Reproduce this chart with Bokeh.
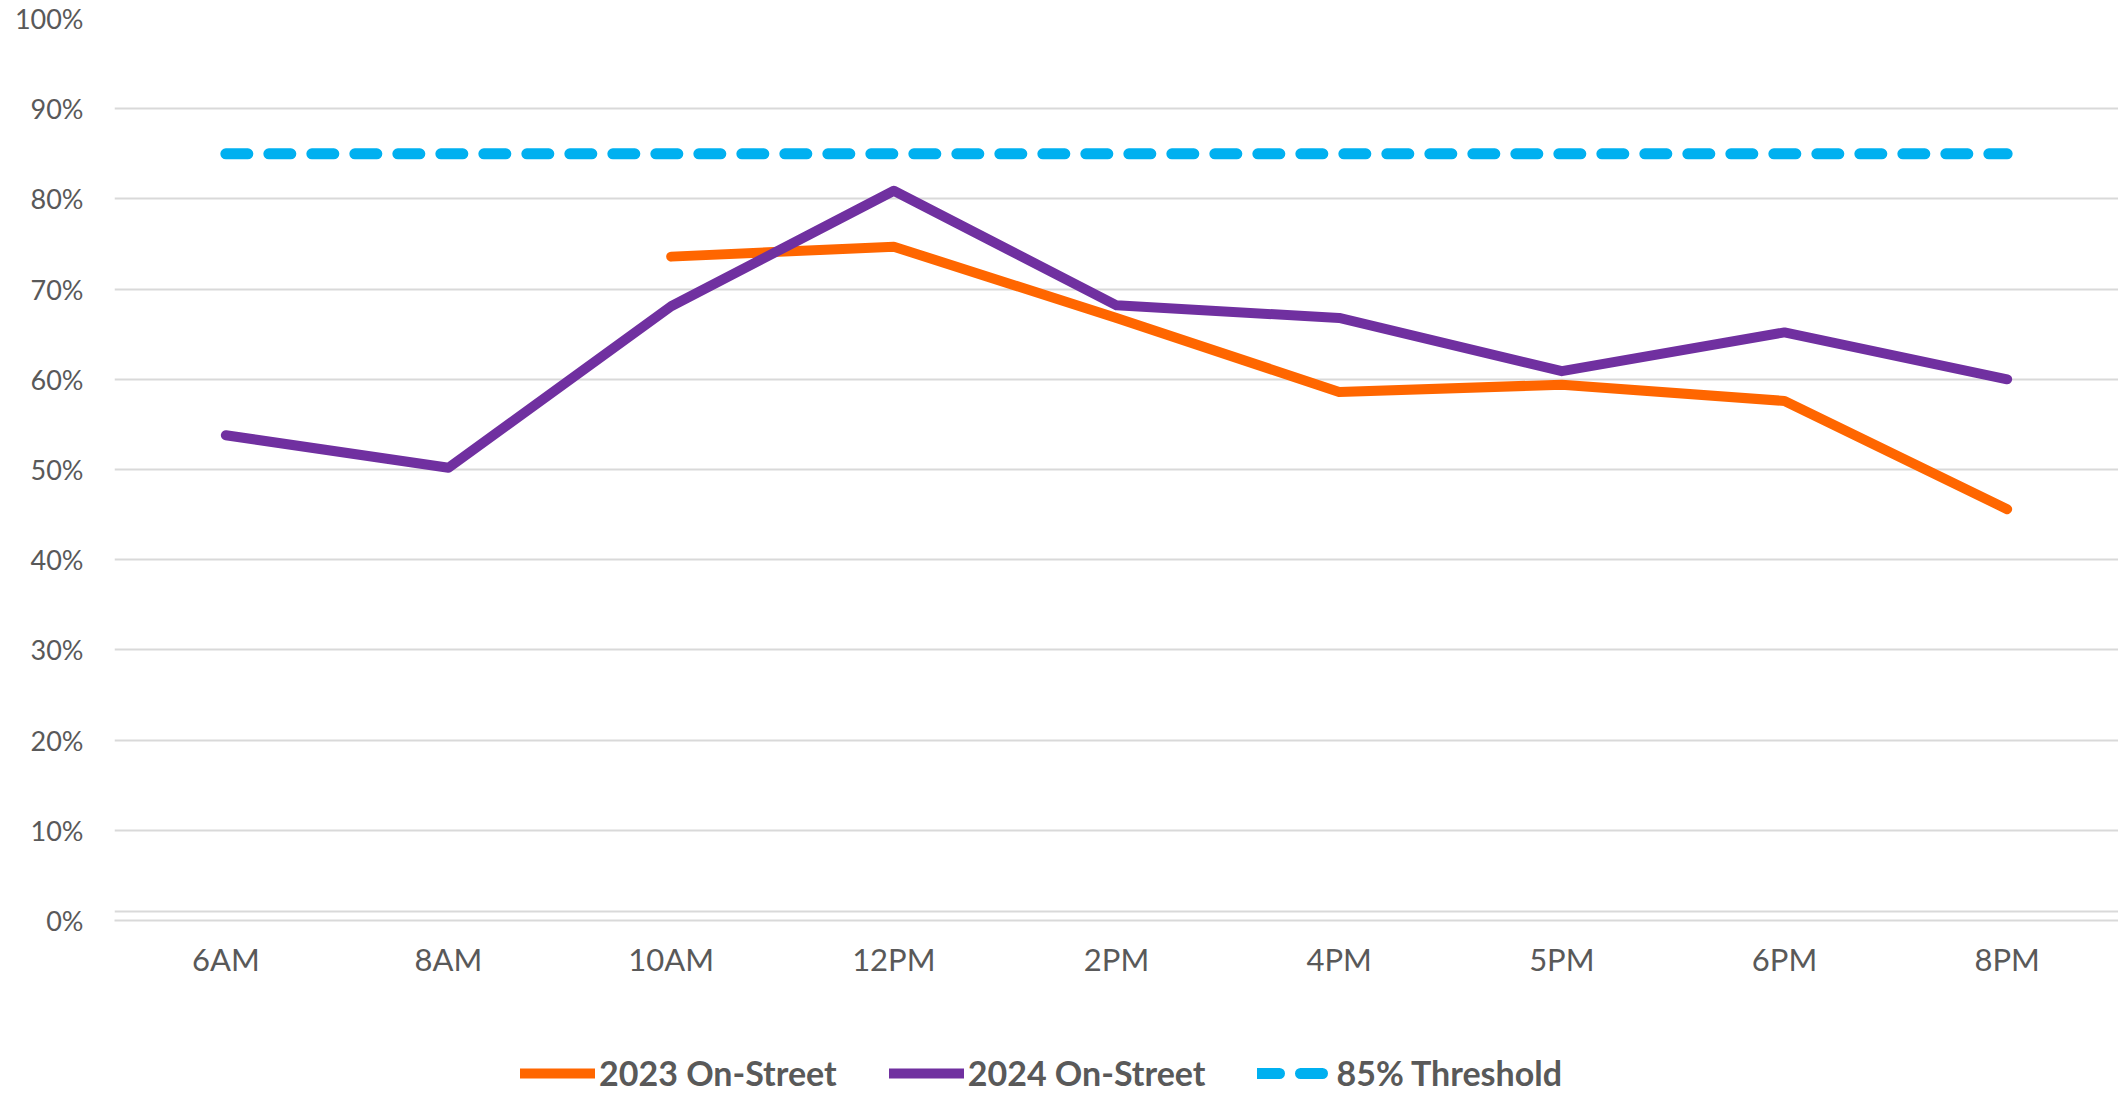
from bokeh.plotting import figure
from bokeh.layouts import column
from bokeh.models import (ColumnDataSource, FactorRange, Range1d, NumeralTickFormatter,
                          FixedTicker, Legend, LegendItem, Span)
from bokeh.embed import file_html
from bokeh.resources import INLINE

nan = float("nan")

times = ["6AM", "8AM", "10AM", "12PM", "2PM", "4PM", "5PM", "6PM", "8PM"]
on_street_2023 = [nan, nan, 0.736, 0.747, 0.668, 0.586, 0.594, 0.576, 0.456]
on_street_2024 = [0.538, 0.502, 0.681, 0.809, 0.682, 0.668, 0.609, 0.652, 0.600]
threshold = [0.85, 0.85, 0.85, 0.85, 0.85, 0.85, 0.85, 0.85, 0.85]
y_ticks = [0.0, 0.1, 0.2, 0.3, 0.4, 0.5, 0.6, 0.7, 0.8, 0.9, 1.0]
series_names = ["2023 On-Street", "2024 On-Street", "85% Threshold"]

src = ColumnDataSource(dict(t=times, a=on_street_2023, b=on_street_2024, th=threshold))

TEXT = "#595959"
GRID = "#d9d9d9"
C23, C24, CTH = "#FF6600", "#7030A0", "#00B0F0"

p = figure(width=2118, height=990, x_range=FactorRange(factors=times, range_padding=0),
           y_range=Range1d(0, 1), output_backend="svg", toolbar_location=None,
           min_border_left=114, min_border_right=0, min_border_top=18, min_border_bottom=70)
p.outline_line_color = None

p.xgrid.visible = False
p.ygrid.grid_line_color = GRID
p.ygrid.grid_line_width = 2

p.yaxis.ticker = FixedTicker(ticks=y_ticks)
p.yaxis.formatter = NumeralTickFormatter(format="0%")
p.yaxis.axis_line_color = None
p.yaxis.major_tick_line_color = None
p.yaxis.minor_tick_line_color = None
p.yaxis.major_label_text_font = "Lato"
p.yaxis.major_label_text_font_size = "27px"
p.yaxis.major_label_text_color = TEXT
p.yaxis.major_label_standoff = 25

p.xaxis.axis_line_color = GRID
p.xaxis.axis_line_width = 2
p.xaxis.major_tick_line_color = None
p.xaxis.minor_tick_line_color = None
p.xaxis.major_label_text_font = "Lato"
p.xaxis.major_label_text_font_size = "31px"
p.xaxis.major_label_text_color = TEXT
p.xaxis.major_label_standoff = 13

p.add_layout(Span(location=0.01, dimension="width", line_color=GRID, line_width=2))

line_styles = [dict(line_color=C23, line_width=10, line_cap="round", line_join="round"),
               dict(line_color=C24, line_width=10, line_cap="round", line_join="round"),
               dict(line_color=CTH, line_width=11, line_cap="round", line_dash="22 21")]

p.line("t", "th", source=src, **line_styles[2])
p.line("t", "a", source=src, **line_styles[0])
p.line("t", "b", source=src, **line_styles[1])

# legend strip below the chart (legend-only renderers, placed outside the visible range)
p2 = figure(width=2118, height=103, x_range=Range1d(0, 1), y_range=Range1d(0, 1),
            output_backend="svg", toolbar_location=None, min_border=0)
p2.axis.visible = False
p2.grid.visible = False
p2.outline_line_color = None
leg_src = ColumnDataSource(dict(x=[-5.0, -4.0], y=[-5.0, -5.0]))
leg_renderers = [p2.line("x", "y", source=leg_src, **st) for st in line_styles]

legend = Legend(items=[LegendItem(label=n, renderers=[r]) for n, r in zip(series_names, leg_renderers)],
                location=(406, 0), orientation="horizontal",
                background_fill_alpha=0, border_line_color=None,
                padding=0, margin=0, spacing=52, glyph_width=75, glyph_height=30,
                label_height=30, label_standoff=4,
                label_text_font="Lato", label_text_font_style="bold",
                label_text_font_size="34px", label_text_color=TEXT)
p2.add_layout(legend)

layout = column(p, p2, spacing=0)
open("out.html", "w").write(file_html(layout, INLINE))
